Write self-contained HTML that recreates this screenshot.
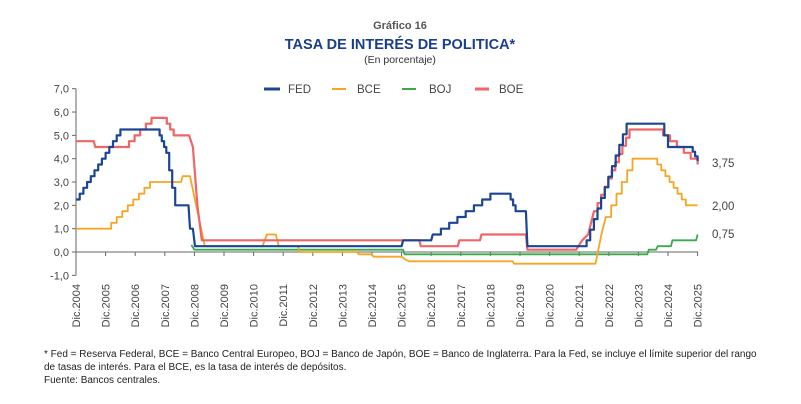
<!DOCTYPE html>
<html><head><meta charset="utf-8">
<style>
body{margin:0;background:#fff;width:801px;height:404px;overflow:hidden;font-family:"Liberation Sans",sans-serif;}
svg{position:absolute;left:0;top:0}
</style></head><body>
<svg id="s" width="801" height="404" xmlns="http://www.w3.org/2000/svg" font-family="Liberation Sans, sans-serif">
<text x="400" y="29" text-anchor="middle" font-size="11" font-weight="bold" fill="#555">Gráfico 16</text>
<text x="400" y="49" text-anchor="middle" font-size="14.5" font-weight="bold" fill="#1a3f8a">TASA DE INTERÉS DE POLITICA*</text>
<text x="400" y="63" text-anchor="middle" font-size="10.5" fill="#333">(En porcentaje)</text>
<g font-size="11.5" fill="#444">
<line x1="264" y1="89" x2="280" y2="89" stroke="#1c4595" stroke-width="3"/><text x="288" y="93">FED</text>
<line x1="332" y1="89" x2="346" y2="89" stroke="#f5a623" stroke-width="2"/><text x="357" y="93">BCE</text>
<line x1="402" y1="89" x2="416" y2="89" stroke="#3aaa4a" stroke-width="2"/><text x="429" y="93">BOJ</text>
<line x1="475" y1="89" x2="489" y2="89" stroke="#ee6666" stroke-width="3"/><text x="499" y="93">BOE</text>
</g>
<g id="ax" font-size="11" fill="#444"></g>
<g id="series" fill="none" stroke-linejoin="round"></g>
<g font-size="11.5" fill="#444">
<text x="712" y="167">3,75</text><text x="712" y="210">2,00</text><text x="712" y="238">0,75</text>
</g>
<g font-size="10" fill="#222">
<text x="44" y="357">* Fed = Reserva Federal, BCE = Banco Central Europeo, BOJ = Banco de Japón, BOE = Banco de Inglaterra. Para la Fed, se incluye el límite superior del rango</text>
<text x="44" y="370">de tasas de interés. Para el BCE, es la tasa de interés de depósitos.</text>
<text x="44" y="383">Fuente: Bancos centrales.</text>
</g>
</svg>
<script>
var NS="http://www.w3.org/2000/svg";
function el(p,t,a,txt){var e=document.createElementNS(NS,t);for(var k in a)e.setAttribute(k,a[k]);if(txt!=null)e.textContent=txt;p.appendChild(e);return e;}
var X=function(t){return 76+29.6*t}, Y=function(v){return 252-23.33*v};
var ax=document.getElementById('ax');
el(ax,'line',{x1:76,y1:Y(7),x2:76,y2:Y(-1),stroke:'#666','stroke-width':1});
el(ax,'line',{x1:76,y1:252,x2:698,y2:252,stroke:'#666','stroke-width':1});
for(var v=-1;v<=7;v++){el(ax,'line',{x1:72,y1:Y(v),x2:76,y2:Y(v),stroke:'#666'});
el(ax,'text',{x:69,y:Y(v)+4,'text-anchor':'end'},(v+',0'));}
for(var i=0;i<=21;i++){var x=X(i);el(ax,'line',{x1:x,y1:252,x2:x,y2:256,stroke:'#666'});
el(ax,'text',{x:0,y:0,'text-anchor':'end',transform:'translate('+(x+4)+',284) rotate(-90)'},'Dic.'+(2004+i));}
function step(pts){var d='';pts.forEach(function(p,i){
 d+=(i==0?'M':' L')+X(p[0]).toFixed(1)+' '+Y(p[1]).toFixed(1);});return d;}
function stairs(t0,t1,v0,v1,n){var a=[];for(var k=0;k<=n;k++){var t=t0+(t1-t0)*k/n,v=v0+(v1-v0)*k/n;a.push([t,v]);if(k<n)a.push([t0+(t1-t0)*(k+1)/n,v]);}return a;}
var fed=[].concat(stairs(0,1.5,2.25,5.25,12),[[2.75,5.25]],stairs(2.75,3.05,5.25,4.25,4),stairs(3.05,3.35,4.25,2.0,3),[[3.8,2.0],[3.85,1.0],[3.95,1.0],[4.02,0.25],[11.0,0.25],[11.05,0.5],[12.0,0.5],[12.05,0.75]],stairs(12.05,14.0,0.75,2.5,7),[[14.6,2.5]],stairs(14.6,14.85,2.5,1.75,3),[[15.2,1.75],[15.25,0.25],[17.25,0.25]],stairs(17.25,18.6,0.5,5.5,11),[[19.75,5.5]],stairs(19.75,20.0,5.5,4.5,2),[[20.75,4.5]],stairs(20.75,21,4.5,3.9,3));
var bce=[[0,1],[1.0,1]].concat(stairs(1.0,2.5,1.0,3.0,8),[[3.55,3.0],[3.6,3.25],[3.85,3.25]],[[4.35,0.25],[6.3,0.25],[6.45,0.75],[6.75,0.75],[6.85,0.25],[7.5,0.25],[7.55,0],[9.5,0],[9.55,-0.1],[10.0,-0.1],[10.05,-0.2],[11.0,-0.2],[11.1,-0.3],[11.25,-0.4],[14.75,-0.4],[14.8,-0.5],[17.55,-0.5],[17.75,0.75],[17.9,1.5]],stairs(17.9,18.8,1.5,4.0,5),[[19.5,4.0]],stairs(19.5,20.6,4.0,2.0,8),[[21,2.0]]);
var boj=[[3.9,0.3],[4.0,0.1],[11.05,0.1],[11.1,-0.1],[19.3,-0.1],[19.35,0.1],[19.6,0.1],[19.65,0.25],[20.1,0.25],[20.15,0.5],[20.95,0.5],[21,0.75]];
var boe=[[0,4.75],[0.6,4.75],[0.65,4.5],[1.6,4.5]].concat(stairs(1.6,2.55,4.5,5.75,5),[[2.95,5.75]],stairs(2.95,3.3,5.75,5.0,3),[[3.82,5.0],[3.95,4.5],[4.1,2.0],[4.25,0.5],[11.6,0.5],[11.65,0.25],[12.9,0.25],[12.95,0.5],[13.65,0.5],[13.7,0.75],[15.2,0.75],[15.25,0.1],[16.9,0.1],[17.1,0.5],[17.3,0.75],[17.5,1.75]],stairs(17.5,18.7,1.75,5.25,10),[[19.6,5.25]],stairs(19.6,21,5.25,3.75,6));
var g=document.getElementById('series');
el(g,'path',{d:step(boj),stroke:'#3aaa4a','stroke-width':1.8});
el(g,'path',{d:step(bce),stroke:'#f5a623','stroke-width':1.8});
el(g,'path',{d:step(boe),stroke:'#ee6666','stroke-width':2.2});
el(g,'path',{d:step(fed),stroke:'#1c4595','stroke-width':2.2});
</script>
</body></html>
